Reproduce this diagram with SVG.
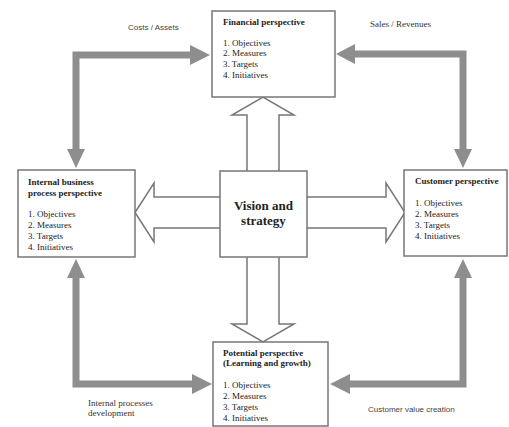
<svg xmlns="http://www.w3.org/2000/svg" width="509" height="427" viewBox="0 0 509 427">
<style>
.box{fill:#fff;stroke:#777;stroke-width:1.5}
.hollow{fill:#fff;stroke:#777;stroke-width:1.5;stroke-linejoin:miter}
.conn{fill:none;stroke:#8e8e8e;stroke-width:7}
.head{fill:#8e8e8e}
.t{font-family:"Liberation Serif",serif;font-size:9px;fill:#222}
.b{font-weight:bold}
.lbl{font-family:"Liberation Serif",serif;font-size:9px;fill:#333}
.lbs{font-family:"Liberation Sans",sans-serif;font-size:8px;fill:#444}
.vs{font-family:"Liberation Serif",serif;font-size:13px;font-weight:bold;fill:#222}
</style>
<rect width="509" height="427" fill="#fff"/>
<g id="connectors">
<path class="conn" d="M76,160 V55 H190"/>
<path class="head" d="M190,45 L210,55 L190,65 z"/>
<path class="head" d="M67,149 L85,149 L76,168 z"/>
<path class="conn" d="M355,54 H463 V150"/>
<path class="head" d="M355,44 L336,54 L355,64 z"/>
<path class="head" d="M454,149 L472,149 L463,168 z"/>
<path class="conn" d="M76,278 V384 H192"/>
<path class="head" d="M67,278 L85,278 L76,259 z"/>
<path class="head" d="M192,374 L212,384 L192,394 z"/>
<path class="conn" d="M463,278 V384 H350"/>
<path class="head" d="M454,278 L472,278 L463,259 z"/>
<path class="head" d="M350,374 L330,384 L350,394 z"/>
<path class="hollow" d="M247,171 V115 H232 L263,97 L294,115 H279 V171"/>
<path class="hollow" d="M247,257 V324 H232 L263,342 L294,324 H279 V257"/>
<path class="hollow" d="M220,197 H154 V183 L135,212.5 L154,242 V228 H220"/>
<path class="hollow" d="M307,197 H386 V183 L405,212.5 L386,242 V228 H307"/>
</g>
<g id="financial">
<rect class="box" x="212" y="11" width="123" height="86"/>
<text class="t b" x="223" y="25">Financial perspective</text>
<text class="t" x="223" y="46">1. Objectives</text>
<text class="t" x="223" y="56">2. Measures</text>
<text class="t" x="223" y="67">3. Targets</text>
<text class="t" x="223" y="78">4. Initiatives</text>
</g>
<g id="internal">
<rect class="box" x="18" y="170" width="117" height="87"/>
<text class="t b" x="28" y="185">Internal business</text>
<text class="t b" x="28" y="196">process perspective</text>
<text class="t" x="28" y="217">1. Objectives</text>
<text class="t" x="28" y="228">2. Measures</text>
<text class="t" x="28" y="239">3. Targets</text>
<text class="t" x="28" y="250">4. Initiatives</text>
</g>
<g id="customer">
<rect class="box" x="404" y="170" width="103" height="86"/>
<text class="t b" x="415" y="184">Customer perspective</text>
<text class="t" x="415" y="206">1. Objectives</text>
<text class="t" x="415" y="217">2. Measures</text>
<text class="t" x="415" y="228">3. Targets</text>
<text class="t" x="415" y="239">4. Initiatives</text>
</g>
<g id="potential">
<rect class="box" x="213" y="342" width="115" height="84"/>
<text class="t b" x="223" y="356">Potential perspective</text>
<text class="t b" x="223" y="366">(Learning and growth)</text>
<text class="t" x="223" y="388">1. Objectives</text>
<text class="t" x="223" y="399">2. Measures</text>
<text class="t" x="223" y="410">3. Targets</text>
<text class="t" x="223" y="421">4. Initiatives</text>
</g>
<g id="vision">
<rect class="box" x="220" y="171" width="87" height="86"/>
<text class="vs" x="263.5" y="210" text-anchor="middle">Vision and</text>
<text class="vs" x="263.5" y="225" text-anchor="middle">strategy</text>
</g>
<g id="labels">
<text class="lbs" x="128" y="30">Costs / Assets</text>
<text class="lbl" x="370" y="27">Sales / Revenues</text>
<text class="lbl" x="88" y="406">Internal processes</text>
<text class="lbl" x="88" y="416">development</text>
<text class="lbs" x="368" y="412">Customer value creation</text>
</g>
</svg>
